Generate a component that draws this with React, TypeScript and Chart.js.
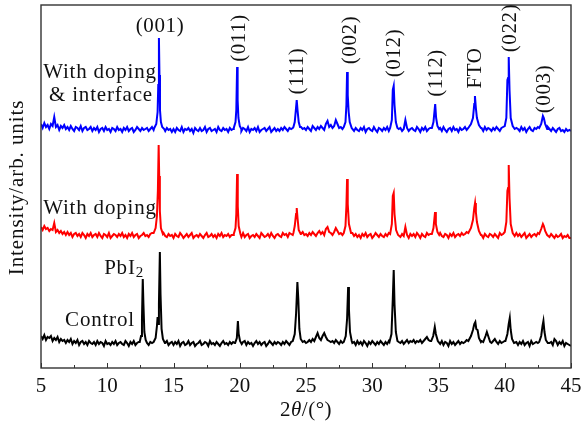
import { useEffect, useRef } from 'react';
import { Chart, registerables } from 'chart.js';

Chart.register(...registerables);

// ---- Data (2θ in degrees, intensity in arbitrary units) ----
const scanStart = 5;
const scanStep = 0.125;

// background of each scan, one value per 0.125° step from 5° to 45° (16 values = 2° per row)
const blueNoise = [
  6, 2, 7, 3, 5, 1, 6, 4, 13, 3, 5, 0, 4, 2, 5, 1,
  3, 0, 4, 1, -1, 3, 2, 0, 4, -1, 2, 3, 0, 1, 3, -1,
  2, 0, 3, -2, 1, 2, -1, 3, 0, 1, -2, 2, 1, -1, 3, 0,
  1, -2, 2, 0, 3, -1, 1, 2, -2, 0, 3, 1, -1, 2, 0, 1,
  2, -1, 1, 3, 0, 0, 0, 0, 0, 0, 0, -1, 2, 0, 1, -2,
  1, -2, 2, 0, -1, 3, -2, 1, 0, 2, -1, 1, -3, 2, 0, -1,
  2, -1, 0, 3, -2, 1, 2, -1, 0, 1, -2, 3, 0, -1, 2, 0,
  1, -2, 2, 0, 1, 0, 0, 0, 0, -1, 2, 1, -1, 3, -2, 1,
  0, 2, -1, 3, -2, 0, 1, 2, -1, 1, 3, -2, 0, 2, -1, 1,
  -1, 2, 0, 3, 1, -1, 2, 1, 2, 0, 0, 0, 0, 3, 1, 2,
  0, 3, 1, -1, 4, 2, 0, 3, 1, 4, 2, 0, 6, 9, 3, 5,
  2, 4, 10, 6, 2, 3, 1, 0, 0, 0, 0, 0, 1, -1, 2, 0,
  -1, 2, 0, 3, -2, 1, 2, 0, -1, 3, 0, -2, 2, 1, -1, 2,
  0, 3, -1, 0, 0, 0, 0, 0, 1, 2, -1, 1, 10, 2, -1, 1,
  2, 0, -1, 3, 1, -2, 2, 0, 3, -1, 1, 2, 4, 0, 0, 0,
  0, 2, -1, 3, 0, -2, 1, 2, -1, 3, 0, 1, -2, 2, 0, 1,
  3, 0, 2, 0, 0, 0, 0, 0, 0, 0, 2, -1, 3, 0, 2, 1,
  -1, 2, 0, 3, 1, -1, 2, 3, 0, 0, 0, 0, 0, 0, 0, 2,
  1, -1, 3, 0, 2, -2, 1, 3, 0, -1, 2, 1, 3, 0, 0, 0,
  0, 0, 3, 1, -1, 2, 0, -2, 1, 2, -1, 0, -2, 1, -1, 0,
  -1,
];
const redNoise = [
  9, 6, 10, 7, 8, 5, 7, 6, 13, 4, 6, 3, 5, 2, 4, 1,
  4, 1, 3, -1, 2, 3, 0, 2, -1, 3, 1, -2, 2, 0, 3, -1,
  1, 2, -1, 3, 0, -2, 2, 1, -1, 3, -2, 0, 2, 1, -1, 2,
  0, 3, -1, 1, -2, 2, 0, 3, -1, 1, 2, -2, 0, 1, 3, 0,
  1, -1, 2, 3, 0, 0, 0, 0, 0, 0, 3, 0, -1, 2, 0, 1,
  -2, 2, 0, -1, 3, 1, -2, 0, 2, -1, 1, 3, -2, 0, 1, -1,
  2, 0, -2, 1, 3, -1, 0, 2, -1, 1, -2, 2, 0, 3, -1, 1,
  0, 2, -1, 1, 1, 0, 0, 0, 0, -1, 3, -1, 1, 2, -2, 0,
  1, -1, 2, 0, -2, 3, 1, -1, 0, 2, -1, 3, 0, -2, 1, 2,
  0, -1, 3, 1, 2, -1, 3, 2, 1, 0, 0, 0, 0, 2, 4, 1,
  2, 0, 3, 1, 4, 2, 0, 3, 5, 2, 4, 1, 7, 9, 4, 3,
  1, 4, 8, 5, 2, 3, 1, 0, 0, 0, 0, 0, 3, 0, 2, -1,
  1, -2, 2, 0, 3, -1, 1, 2, -2, 0, 3, 1, -1, 2, 0, -1,
  2, 0, 3, 0, 0, 0, 0, 0, 1, -1, 2, 0, 9, 1, -2, 2,
  0, 2, -1, 3, 1, -2, 2, 0, -1, 3, 1, 2, 0, 0, 0, 0,
  0, 3, 0, -1, 2, 1, -2, 2, 0, 3, -1, 1, 2, 0, 3, 1,
  2, 4, 3, 0, 0, 0, 0, 0, 0, 0, 1, -2, 2, 0, -1, 2,
  1, -1, 2, 0, -2, 3, 1, 2, 0, 0, 0, 0, 0, 0, 0, 3,
  0, 2, -1, 1, 3, -2, 0, 2, -1, 1, 2, 0, 3, 0, 0, 0,
  0, 2, 1, -1, 2, 0, -2, 1, -1, 0, 2, -2, 0, -1, 1, -2,
  -2,
];
const blackNoise = [
  8, 5, 9, 4, 7, 6, 8, 3, 6, 4, 7, 2, 5, 3, 4, 1,
  4, 2, 5, 0, 3, 1, 4, -1, 2, 3, 0, 2, -1, 3, 1, 0,
  2, -1, 3, 0, 2, 1, -2, 3, 0, 1, -1, 2, 0, 3, -1, 1,
  2, 0, -1, 3, 1, -2, 2, 0, 3, -1, 1, 2, 0, 0, 0, 0,
  0, -1, 2, 1, 0, 0, 0, 0, 0, 0, 0, 1, 3, -1, 1, 2,
  -1, 2, 0, 3, -2, 1, 2, -1, 0, 3, -1, 1, 2, -2, 0, 1,
  3, -1, 0, 2, 1, -2, 3, 0, 1, -1, 2, 0, -2, 1, 3, 0,
  1, -1, 2, 0, 2, 1, 0, 0, 0, 0, 2, 3, -1, 2, 0, 1,
  -2, 1, 3, 0, 2, -1, 1, 2, -2, 0, 3, 1, -1, 2, 0, 2,
  1, -1, 2, 0, 3, 1, -1, 2, 0, 0, 0, 0, 0, 0, 0, 3,
  1, 2, 4, 2, 5, 3, 7, 11, 6, 4, 8, 11, 7, 4, 3, 2,
  3, 1, 4, 2, 0, 3, 1, 0, 0, 0, 0, 0, 1, 2, -1, 3,
  0, 2, -1, 3, 1, -2, 2, 0, 3, 1, -1, 2, 0, 3, 1, -1,
  2, 0, 3, 0, 0, 0, 0, 0, 2, 1, 3, 0, 2, 4, 1, 3,
  2, 4, 1, 3, 2, 4, 1, 3, 5, 7, 4, 3, 0, 0, 0, 0,
  2, 0, 3, -1, 2, 1, -2, 3, 0, 2, -1, 1, 3, 0, 2, 1,
  2, 4, 3, 0, 0, 0, 0, 0, 0, 0, 3, 2, 0, 0, 0, 0,
  1, 3, 5, 2, 0, 3, 1, 2, 3, 0, 0, 0, 0, 0, 1, 2,
  -1, 2, 0, 3, -1, 1, 2, -2, 3, 0, 1, 2, 1, 0, 0, 0,
  0, 0, 0, 1, 2, -1, 5, 3, -1, 2, 0, 3, -2, 1, 0, -1,
  -2,
];

// diffraction peaks of each scan: [2θ, intensity above background]
const bluePeaks = [
  [[13.55, 2], [13.7, 6], [13.8, 18], [13.85, 45], [13.9, 92], [13.94, 55], [13.98, 20], [14.05, 8], [14.15, 3], [14.3, 1]],
  [[19.55, 2], [19.68, 8], [19.74, 20], [19.8, 63], [19.84, 30], [19.9, 12], [20.0, 4], [20.12, 1]],
  [[24.05, 3], [24.15, 8], [24.22, 18], [24.3, 30], [24.36, 20], [24.45, 8], [24.55, 3]],
  [[27.85, 3], [27.98, 8], [28.05, 25], [28.1, 58], [28.15, 35], [28.22, 18], [28.3, 8], [28.45, 2]],
  [[31.35, 2], [31.48, 10], [31.55, 40], [31.62, 44], [31.68, 25], [31.78, 8], [31.9, 2]],
  [[34.5, 2], [34.62, 8], [34.75, 26], [34.82, 12], [34.92, 4], [35.05, 1]],
  [[37.3, 2], [37.45, 6], [37.6, 12], [37.7, 26], [37.75, 34], [37.82, 22], [37.9, 12], [38.05, 5], [38.2, 2]],
  [[40.0, 4], [40.12, 12], [40.2, 50], [40.25, 52], [40.3, 73], [40.36, 40], [40.45, 12], [40.6, 4], [40.75, 1]],
  [[42.6, 2], [42.75, 6], [42.88, 14], [42.95, 12], [43.05, 6], [43.2, 1]],
];
const redPeaks = [
  [[13.5, 3], [13.65, 8], [13.75, 20], [13.82, 45], [13.88, 91], [13.92, 60], [13.97, 25], [14.05, 8], [14.2, 2]],
  [[19.55, 2], [19.68, 8], [19.74, 22], [19.8, 62], [19.85, 30], [19.92, 10], [20.05, 2]],
  [[24.05, 3], [24.15, 10], [24.25, 22], [24.3, 28], [24.36, 18], [24.45, 6], [24.6, 2]],
  [[27.85, 3], [27.98, 10], [28.05, 30], [28.1, 57], [28.15, 32], [28.24, 12], [28.4, 3]],
  [[31.35, 2], [31.48, 12], [31.55, 40], [31.62, 43], [31.68, 22], [31.8, 6], [31.95, 1]],
  [[34.5, 2], [34.62, 8], [34.74, 24], [34.8, 12], [34.92, 4], [35.05, 1]],
  [[37.3, 3], [37.45, 8], [37.6, 16], [37.7, 28], [37.76, 33], [37.82, 24], [37.9, 14], [38.05, 5], [38.2, 1]],
  [[40.0, 4], [40.12, 14], [40.2, 45], [40.25, 48], [40.3, 71], [40.36, 38], [40.45, 12], [40.6, 3], [40.75, 0]],
  [[42.6, 2], [42.75, 7], [42.88, 12], [42.95, 10], [43.05, 5], [43.2, 1]],
];
const blackPeaks = [
  [[12.45, 2], [12.55, 8], [12.62, 25], [12.68, 65], [12.73, 40], [12.8, 12], [12.9, 4], [13.0, 1]],
  [[13.5, 2], [13.65, 6], [13.75, 18], [13.8, 27], [13.85, 20], [13.9, 40], [13.97, 92], [14.02, 50], [14.1, 15], [14.2, 5], [14.35, 1]],
  [[19.65, 1], [19.78, 6], [19.86, 23], [19.92, 10], [20.02, 3], [20.15, 0]],
  [[24.0, 3], [24.15, 10], [24.25, 30], [24.35, 62], [24.42, 45], [24.5, 15], [24.6, 5], [24.75, 2]],
  [[27.85, 2], [28.0, 8], [28.1, 25], [28.18, 57], [28.24, 35], [28.32, 12], [28.45, 3]],
  [[31.3, 2], [31.45, 10], [31.55, 45], [31.62, 74], [31.68, 40], [31.78, 12], [31.9, 3]],
  [[34.45, 3], [34.6, 8], [34.72, 17], [34.8, 10], [34.95, 3]],
  [[37.3, 3], [37.45, 8], [37.6, 14], [37.7, 20], [37.78, 22], [37.85, 15], [37.95, 14], [38.05, 6], [38.2, 2]],
  [[38.4, 2], [38.55, 8], [38.65, 12], [38.75, 8], [38.9, 2]],
  [[40.05, 3], [40.2, 10], [40.3, 20], [40.38, 26], [40.45, 14], [40.55, 5], [40.7, 1]],
  [[42.6, 2], [42.75, 8], [42.85, 18], [42.92, 23], [43.0, 12], [43.1, 4], [43.25, 1]],
];

// vertical offsets used to stack the three scans
const seriesNames = ['With doping & interface', 'With doping', 'Control'];
const seriesOffsets = [238, 132, 24];

// peak labels
const peakLabels = ['(001)', '(011)', '(111)', '(002)', '(012)', '(112)', 'FTO', '(022)', '(003)'];
const peakLabelAngle = [13.98, 19.87, 24.3, 28.25, 31.64, 34.8, 37.75, 40.32, 42.96];

const xTicks = [5, 10, 15, 20, 25, 30, 35, 40, 45];
const xMinorTicks = [7.5, 12.5, 17.5, 22.5, 27.5, 32.5, 37.5, 42.5];

// ---- Presentation ----
const colors = ['#0000ff', '#ff0000', '#000000'];
const labelLevels = [343, 330, 297, 328, 315, 295, 300, 340, 279];
const labelRotated = [false, true, true, true, true, true, true, true, true];
const SERIF = '"Liberation Serif", "Times New Roman", serif';

function buildSeries(noise: number[], peaks: number[][][], offset: number) {
  const pts: { x: number; y: number }[] = [];
  noise.forEach((v, i) => {
    const x = scanStart + i * scanStep;
    if (peaks.some((s) => x >= s[0][0] && x <= s[s.length - 1][0])) return;
    pts.push({ x, y: offset + v });
  });
  peaks.forEach((s) => s.forEach(([x, y]) => pts.push({ x, y: offset + y })));
  pts.sort((a, b) => a.x - b.x);
  return pts;
}

const decorPlugin = {
  id: 'decor',
  afterDraw(chart: any) {
    const { ctx, chartArea, scales } = chart;
    const xs = scales.x;
    const ys = scales.y;
    ctx.save();
    // frame
    ctx.strokeStyle = '#333';
    ctx.lineWidth = 1.4;
    ctx.strokeRect(chartArea.left, chartArea.top, chartArea.right - chartArea.left, chartArea.bottom - chartArea.top);
    // inward ticks
    ctx.lineWidth = 1;
    xTicks.forEach((t) => {
      const px = Math.round(xs.getPixelForValue(t)) + 0.5;
      ctx.beginPath();
      ctx.moveTo(px, chartArea.bottom);
      ctx.lineTo(px, chartArea.bottom - 5);
      ctx.stroke();
    });
    xMinorTicks.forEach((t) => {
      const px = Math.round(xs.getPixelForValue(t)) + 0.5;
      ctx.beginPath();
      ctx.moveTo(px, chartArea.bottom);
      ctx.lineTo(px, chartArea.bottom - 3);
      ctx.stroke();
    });

    ctx.fillStyle = '#111';
    ctx.font = '21px ' + SERIF;
    ctx.textAlign = 'center';
    ctx.textBaseline = 'middle';
    ctx.letterSpacing = '0.6px';
    // peak labels
    peakLabels.forEach((lab, i) => {
      const px = xs.getPixelForValue(peakLabelAngle[i]);
      const py = ys.getPixelForValue(labelLevels[i]);
      ctx.save();
      ctx.translate(px, py);
      if (labelRotated[i]) ctx.rotate(-Math.PI / 2);
      ctx.fillText(lab, 0, 1);
      ctx.restore();
    });
    // series labels
    const lx = xs.getPixelForValue(9.45);
    ctx.letterSpacing = '0.8px';
    ctx.fillText('With doping', lx, ys.getPixelForValue(296));
    ctx.fillText('& interface', lx + 1, ys.getPixelForValue(273));
    ctx.fillText('With doping', lx, ys.getPixelForValue(160));
    ctx.fillText('Control', lx, ys.getPixelForValue(48));
    // PbI2
    const pbx = xs.getPixelForValue(11.35);
    const pby = ys.getPixelForValue(100);
    ctx.textAlign = 'left';
    ctx.fillText('PbI', pbx - 21, pby);
    const w = ctx.measureText('PbI').width;
    ctx.font = '15px ' + SERIF;
    ctx.fillText('2', pbx - 21 + w, pby + 5);

    // y axis title
    ctx.font = '21px ' + SERIF;
    ctx.letterSpacing = '0.9px';
    ctx.textAlign = 'center';
    ctx.save();
    ctx.translate(17, (chartArea.top + chartArea.bottom) / 2 + 1);
    ctx.rotate(-Math.PI / 2);
    ctx.fillText('Intensity/arb. units', 0, 0);
    ctx.restore();

    // x axis title: 2θ/(°)
    ctx.letterSpacing = '0.5px';
    ctx.textAlign = 'left';
    const parts = [
      { t: '2', f: '21px ' + SERIF },
      { t: 'θ', f: 'italic 21px ' + SERIF },
      { t: '/(°)', f: '21px ' + SERIF },
    ];
    let total = 0;
    parts.forEach((p) => { ctx.font = p.f; total += ctx.measureText(p.t).width; });
    let cx = 306 - total / 2;
    parts.forEach((p) => {
      ctx.font = p.f;
      ctx.fillText(p.t, cx, 410);
      cx += ctx.measureText(p.t).width;
    });
    ctx.restore();
  },
};

export default function App() {
  const ref = useRef<HTMLCanvasElement>(null);
  useEffect(() => {
    document.body.style.margin = '0';
    const canvas = ref.current!;
    const series = [
      buildSeries(blueNoise, bluePeaks, seriesOffsets[0]),
      buildSeries(redNoise, redPeaks, seriesOffsets[1]),
      buildSeries(blackNoise, blackPeaks, seriesOffsets[2]),
    ];
    const chart = new Chart(canvas, {
      type: 'line',
      data: {
        datasets: series.map((d, i) => ({
          label: seriesNames[i],
          data: d,
          borderColor: colors[i],
          backgroundColor: colors[i],
          borderWidth: 2,
          pointRadius: 0,
          tension: 0,
        })),
      },
      options: {
        responsive: false,
        animation: false,
        devicePixelRatio: 1,
        layout: { padding: { left: 41, right: 10, top: 5, bottom: 0 } },
        plugins: { legend: { display: false }, tooltip: { enabled: false } },
        scales: {
          x: {
            type: 'linear',
            min: 5,
            max: 45,
            grid: { display: false, drawTicks: false },
            border: { display: false },
            ticks: {
              stepSize: 5,
              padding: 6,
              maxRotation: 0,
              color: '#111',
              font: { family: SERIF, size: 21 },
            },
            afterFit: (s: any) => {
              s.height = 57;
              s.paddingLeft = 0;
              s.paddingRight = 0;
            },
          },
          y: { display: false, min: 0, max: 363 },
        },
      },
      plugins: [decorPlugin],
    });
    return () => chart.destroy();
  }, []);
  return (
    <div style={{ position: 'fixed', left: 0, top: 0, width: 581, height: 425, background: '#fff' }}>
      <canvas ref={ref} width={581} height={425} style={{ width: 581, height: 425 }} />
    </div>
  );
}
